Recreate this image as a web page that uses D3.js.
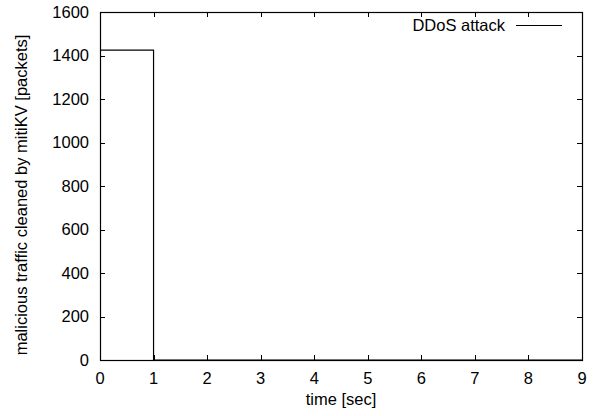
<!DOCTYPE html>
<html>
<head>
<meta charset="utf-8">
<script src="https://cdn.jsdelivr.net/npm/d3@7"></script>
<style>
  body { margin: 0; background: #fff; }
  text { font-family: "Liberation Sans", Arial, sans-serif; font-size: 16.5px; fill: #000; }
</style>
</head>
<body>
<svg id="chart" width="600" height="416"></svg>
<script>
// data: packets cleaned per second
var times = [0, 1, 2, 3, 4, 5, 6, 7, 8, 9];
var packets = [1425, 0, 0, 0, 0, 0, 0, 0, 0, 0];
var seriesName = 'DDoS attack';
var xTicks = [0, 1, 2, 3, 4, 5, 6, 7, 8, 9];
var yTicks = [0, 200, 400, 600, 800, 1000, 1200, 1400, 1600];

var margin = {top: 12, right: 18, bottom: 56, left: 100};
var width = 600, height = 416;
var w = width - margin.left - margin.right,
    h = height - margin.top - margin.bottom;

var svg = d3.select('#chart');
var g = svg.append('g').attr('transform', 'translate(' + margin.left + ',' + margin.top + ')');

var x = d3.scaleLinear().domain([0, 9]).range([0, w]);
var y = d3.scaleLinear().domain([0, 1600]).range([h, 0]);

// inward ticks, mirrored on top/right like gnuplot
var tickLen = 5;
var ticks = g.append('g').attr('stroke', '#000').attr('stroke-width', 1);
xTicks.forEach(function (t) {
	var px = Math.round(x(t)) + 0.5;
	ticks.append('line').attr('x1', px).attr('x2', px).attr('y1', h).attr('y2', h - tickLen);
	ticks.append('line').attr('x1', px).attr('x2', px).attr('y1', 0).attr('y2', tickLen);
	g.append('text').attr('x', x(t)).attr('y', h + 24).attr('text-anchor', 'middle').text(t);
});
yTicks.forEach(function (t) {
	var py = Math.round(y(t)) + 0.5;
	ticks.append('line').attr('x1', 0).attr('x2', tickLen).attr('y1', py).attr('y2', py);
	ticks.append('line').attr('x1', w).attr('x2', w - tickLen).attr('y1', py).attr('y2', py);
	g.append('text').attr('x', -11).attr('y', y(t)).attr('dy', '0.35em')
		.attr('text-anchor', 'end').text(t);
});

// step line
var line = d3.line()
	.x(function (d, i) { return x(times[i]); })
	.y(function (d) { return y(d); })
	.curve(d3.curveStepAfter);
g.append('path')
	.datum(packets)
	.attr('fill', 'none')
	.attr('stroke', '#000')
	.attr('stroke-width', 1.2)
	.attr('d', line);

// border
g.append('rect').attr('x', 0.5).attr('y', 0.5).attr('width', w).attr('height', h)
	.attr('fill', 'none').attr('stroke', '#000').attr('stroke-width', 1.2);

// legend
g.append('text').attr('x', 405).attr('y', 13).attr('dy', '0.35em')
	.attr('text-anchor', 'end').text(seriesName);
g.append('line').attr('x1', 416).attr('x2', 462).attr('y1', 13.5).attr('y2', 13.5)
	.attr('stroke', '#000').attr('stroke-width', 1.2);

// axis labels
svg.append('text').attr('x', margin.left + w / 2).attr('y', 405)
	.attr('text-anchor', 'middle').text('time [sec]');
svg.append('text')
	.attr('transform', 'translate(27,195) rotate(-90)')
	.attr('text-anchor', 'middle').text('malicious traffic cleaned by mitiKV [packets]');
</script>
</body>
</html>
